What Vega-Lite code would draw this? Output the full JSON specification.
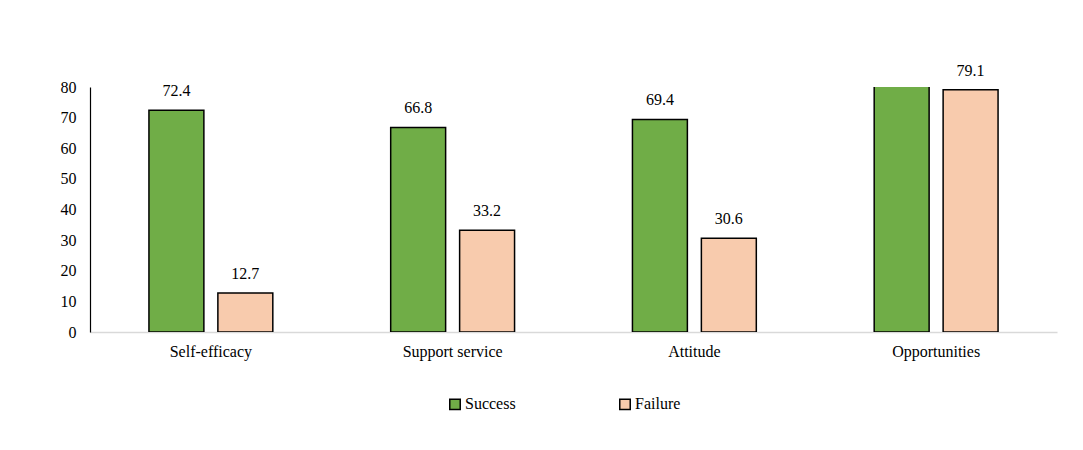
{
  "$schema": "https://vega.github.io/schema/vega-lite/v6.json",
  "autosize": "none",
  "width": 967,
  "height": 245,
  "padding": {"left": 90, "top": 87, "right": 26, "bottom": 118},
  "background": "white",
  "data": {"values": [
    {"factor": "Self-efficacy", "outcome": "Success", "value": 72.4},
    {"factor": "Self-efficacy", "outcome": "Failure", "value": 12.7},
    {"factor": "Support service", "outcome": "Success", "value": 66.8},
    {"factor": "Support service", "outcome": "Failure", "value": 33.2},
    {"factor": "Attitude", "outcome": "Success", "value": 69.4},
    {"factor": "Attitude", "outcome": "Failure", "value": 30.6},
    {"factor": "Opportunities", "outcome": "Success", "value": 86.0},
    {"factor": "Opportunities", "outcome": "Failure", "value": 79.1}
  ]},
  "encoding": {
    "x": {
      "field": "factor", "type": "nominal", "sort": null,
      "scale": {"paddingInner": 0.4876, "paddingOuter": 0.2438},
      "axis": {"title": null, "labelAngle": 0, "ticks": false, "domainColor": "#d9d9d9", "domainWidth": 1.5, "labelPadding": 11, "labelFontSize": 16, "labelColor": "black"}
    },
    "xOffset": {
      "field": "outcome", "type": "nominal", "sort": ["Success", "Failure"],
      "scale": {"paddingInner": 0.203, "paddingOuter": 0}
    },
    "y": {
      "field": "value", "type": "quantitative",
      "scale": {"domain": [0, 80], "nice": false},
      "axis": {"title": null, "values": [0,10,20,30,40,50,60,70,80], "labelOverlap": false, "ticks": false, "grid": false, "domainColor": "black", "domainWidth": 1.2, "labelPadding": 14, "labelFontSize": 16, "labelColor": "black"}
    }
  },
  "layer": [
    {
      "mark": {"type": "bar", "stroke": "black", "strokeWidth": 1.5, "clip": true},
      "encoding": {
        "color": {
          "field": "outcome", "type": "nominal",
          "scale": {"domain": ["Success", "Failure"], "range": ["#70AD47", "#F8CBAD"]},
          "legend": {
            "title": null, "orient": "none", "legendX": 357, "legendY": 309, "direction": "horizontal",
            "symbolType": "square", "symbolSize": 110, "symbolStrokeColor": "black", "symbolStrokeWidth": 1.5,
            "labelFontSize": 16, "labelColor": "black", "columnPadding": 100, "labelOffset": 2
          }
        }
      }
    },
    {
      "transform": [{"filter": "datum.value <= 80"}],
      "mark": {"type": "text", "baseline": "bottom", "dy": -11, "fontSize": 16, "color": "black"},
      "encoding": {"text": {"field": "value", "type": "quantitative", "format": ".1f"}}
    }
  ],
  "config": {
    "font": "Liberation Serif",
    "view": {"stroke": null},
    "axis": {"labelFont": "Liberation Serif"},
    "legend": {"labelFont": "Liberation Serif"}
  }
}
